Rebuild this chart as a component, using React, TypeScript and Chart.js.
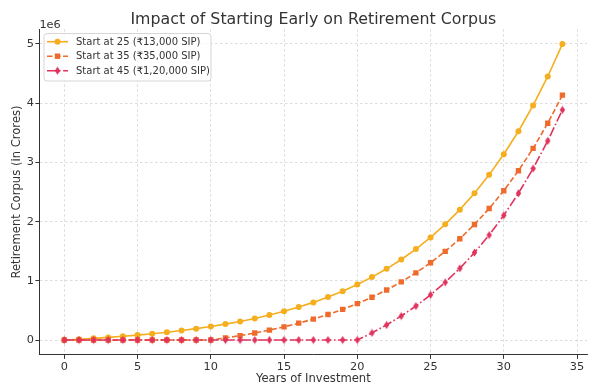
import React, { useEffect, useRef } from "react";
import { Chart, registerables } from "chart.js";

Chart.register(...registerables);

const years = [0, 1, 2, 3, 4, 5, 6, 7, 8, 9, 10, 11, 12, 13, 14, 15, 16, 17, 18, 19, 20, 21, 22, 23, 24, 25, 26, 27, 28, 29, 30, 31, 32, 33, 34];

const start25 = [0, 13000, 27560, 43867, 62131, 82587, 105497, 131157, 159896, 192084, 228134, 268510, 313731, 364378, 421104, 484636, 555793, 635488, 724746, 824716, 936682, 1062084, 1202534, 1359838, 1536018, 1733340, 1954341, 2201862, 2479086, 2789576, 3137325, 3526804, 3963020, 4451583, 4998773];

const start35 = [0, 0, 0, 0, 0, 0, 0, 0, 0, 0, 0, 35000, 74200, 118104, 167276, 222350, 284032, 353115, 430489, 517148, 614206, 722910, 844660, 981019, 1133738, 1304790, 1496365, 1710929, 1951240, 2220388, 2521839, 2859464, 3237599, 3661101, 4135433];

const start45 = [0, 0, 0, 0, 0, 0, 0, 0, 0, 0, 0, 0, 0, 0, 0, 0, 0, 0, 0, 0, 0, 120000, 254400, 404928, 573519, 762342, 973823, 1210681, 1475963, 1773079, 2105848, 2478550, 2895976, 3363493, 3887112];

const seriesLabels = ["Start at 25 (₹13,000 SIP)", "Start at 35 (₹35,000 SIP)", "Start at 45 (₹1,20,000 SIP)"];
const xTicks = [0, 5, 10, 15, 20, 25, 30, 35];
const yTicks = [0, 1000000, 2000000, 3000000, 4000000, 5000000];
const chartTitle = "Impact of Starting Early on Retirement Corpus";
const xTitle = "Years of Investment";
const yTitle = "Retirement Corpus (in Crores)";
const offsetText = "1e6";

const COLORS = ["#F5AE1E", "#EE6B2C", "#E0325C"];
const FONT = "'DejaVu Sans', sans-serif";
const TEXT = "#333333";

function makeDiamond(color: string) {
  const c = document.createElement("canvas");
  c.width = 7;
  c.height = 9;
  const g = c.getContext("2d")!;
  g.fillStyle = color;
  g.beginPath();
  g.moveTo(3.5, 0.5);
  g.lineTo(6.2, 4.5);
  g.lineTo(3.5, 8.5);
  g.lineTo(0.8, 4.5);
  g.closePath();
  g.fill();
  return c;
}

export default function App() {
  const ref = useRef<HTMLCanvasElement | null>(null);

  useEffect(() => {
    if (!ref.current) return;
    const diamond = makeDiamond(COLORS[2]);
    const dashes = [[], [5.5, 2.5], [9.5, 2.5, 1.6, 2.5]];
    const styles: any[] = ["circle", "rect", diamond];
    const radii = [3, 3.8, 3.5];
    const all = [start25, start35, start45];

    const overlay = {
      id: "overlay",
      afterDraw(chart: any) {
        const ctx = chart.ctx as CanvasRenderingContext2D;
        const area = chart.chartArea;
        ctx.save();
        // title
        ctx.fillStyle = TEXT;
        ctx.font = `15.8px ${FONT}`;
        ctx.textAlign = "center";
        ctx.textBaseline = "alphabetic";
        ctx.fillText(chartTitle, (area.left + area.right) / 2, 23.5);
        // offset text
        ctx.font = `11.3px ${FONT}`;
        ctx.textAlign = "left";
        ctx.fillText(offsetText, area.left, 27.5);
        // legend
        const lx = 44, ly = 33.5, lw = 167, lh = 47.5, r = 3;
        ctx.beginPath();
        ctx.moveTo(lx + r, ly);
        ctx.arcTo(lx + lw, ly, lx + lw, ly + lh, r);
        ctx.arcTo(lx + lw, ly + lh, lx, ly + lh, r);
        ctx.arcTo(lx, ly + lh, lx, ly, r);
        ctx.arcTo(lx, ly, lx + lw, ly, r);
        ctx.closePath();
        ctx.fillStyle = "rgba(255,255,255,0.8)";
        ctx.fill();
        ctx.strokeStyle = "#d6d6d6";
        ctx.lineWidth = 1;
        ctx.stroke();
        const rows = [41.7, 56.2, 70.7];
        seriesLabels.forEach((lab, i) => {
          const y = rows[i];
          ctx.save();
          ctx.strokeStyle = COLORS[i];
          ctx.lineWidth = 1.6;
          ctx.setLineDash(dashes[i] as number[]);
          ctx.beginPath();
          ctx.moveTo(47, y);
          ctx.lineTo(68, y);
          ctx.stroke();
          ctx.restore();
          ctx.fillStyle = COLORS[i];
          if (i === 0) {
            ctx.beginPath();
            ctx.arc(57.5, y, 3, 0, Math.PI * 2);
            ctx.fill();
          } else if (i === 1) {
            ctx.fillRect(57.5 - 2.7, y - 2.7, 5.4, 5.4);
          } else {
            ctx.drawImage(diamond, 57.5 - 3.5, y - 4.5);
          }
          ctx.fillStyle = TEXT;
          ctx.font = `10px ${FONT}`;
          ctx.textAlign = "left";
          ctx.textBaseline = "middle";
          ctx.fillText(lab, 76, y + 0.5);
        });
        ctx.restore();
      },
    };

    const chart = new Chart(ref.current, {
      type: "line",
      data: {
        datasets: all.map((vals, i) => ({
          label: seriesLabels[i],
          data: years.map((x, j) => ({ x, y: vals[j] })),
          borderColor: COLORS[i],
          backgroundColor: COLORS[i],
          borderWidth: 1.6,
          borderDash: dashes[i],
          pointStyle: styles[i],
          pointRadius: radii[i],
          pointBorderWidth: 0,
          pointBackgroundColor: COLORS[i],
          pointBorderColor: COLORS[i],
          tension: 0,
          fill: false,
          order: 3 - i,
        })),
      },
      options: {
        animation: false,
        responsive: false,
        devicePixelRatio: 1,
        layout: { padding: { left: 0, top: 29.2, right: 14.7, bottom: 0 } },
        plugins: {
          legend: { display: false },
          title: { display: false },
          tooltip: { enabled: false },
        },
        scales: {
          x: {
            type: "linear",
            min: -1.7,
            max: 35.7,
            afterBuildTicks: (s: any) => {
              s.ticks = xTicks.map((v) => ({ value: v }));
            },
            afterFit: (s: any) => {
              s.height = 35.2;
            },
            grid: {
              color: "rgba(200,200,200,0.8)",
              lineWidth: 0.8,
              tickColor: TEXT,
              tickLength: 4,
              tickWidth: 1,
              tickBorderDash: [],
            },
            border: { display: true, color: TEXT, width: 1, dash: [2.5, 2.5] },
            ticks: {
              color: TEXT,
              font: { family: FONT, size: 11.3 },
              padding: 1,
              maxRotation: 0,
              callback: (v: any) => String(v),
            },
            title: {
              display: true,
              text: xTitle,
              color: TEXT,
              font: { family: FONT, size: 11.6 },
              padding: { top: 0, bottom: 4.2 },
            },
          },
          y: {
            type: "linear",
            min: -250000,
            max: 5250000,
            afterBuildTicks: (s: any) => {
              s.ticks = yTicks.map((v) => ({ value: v }));
            },
            afterFit: (s: any) => {
              s.width = 39.4;
            },
            grid: {
              color: "rgba(200,200,200,0.8)",
              lineWidth: 0.8,
              tickColor: TEXT,
              tickLength: 4,
              tickWidth: 1,
              tickBorderDash: [],
            },
            border: { display: true, color: TEXT, width: 1, dash: [2.5, 2.5] },
            ticks: {
              color: TEXT,
              font: { family: FONT, size: 11.3 },
              padding: 1.5,
              callback: (v: any) => String(Math.round(Number(v) / 1000000)),
            },
            title: {
              display: true,
              text: yTitle,
              color: TEXT,
              font: { family: FONT, size: 11.6 },
              padding: { top: 10.1, bottom: 0 },
            },
          },
        },
      },
      plugins: [overlay],
    } as any);

    return () => chart.destroy();
  }, []);

  return (
    <div style={{ position: "fixed", left: 0, top: 0, width: 602, height: 390, background: "#ffffff" }}>
      <canvas ref={ref} width={602} height={390} style={{ width: 602, height: 390, display: "block" }} />
    </div>
  );
}
